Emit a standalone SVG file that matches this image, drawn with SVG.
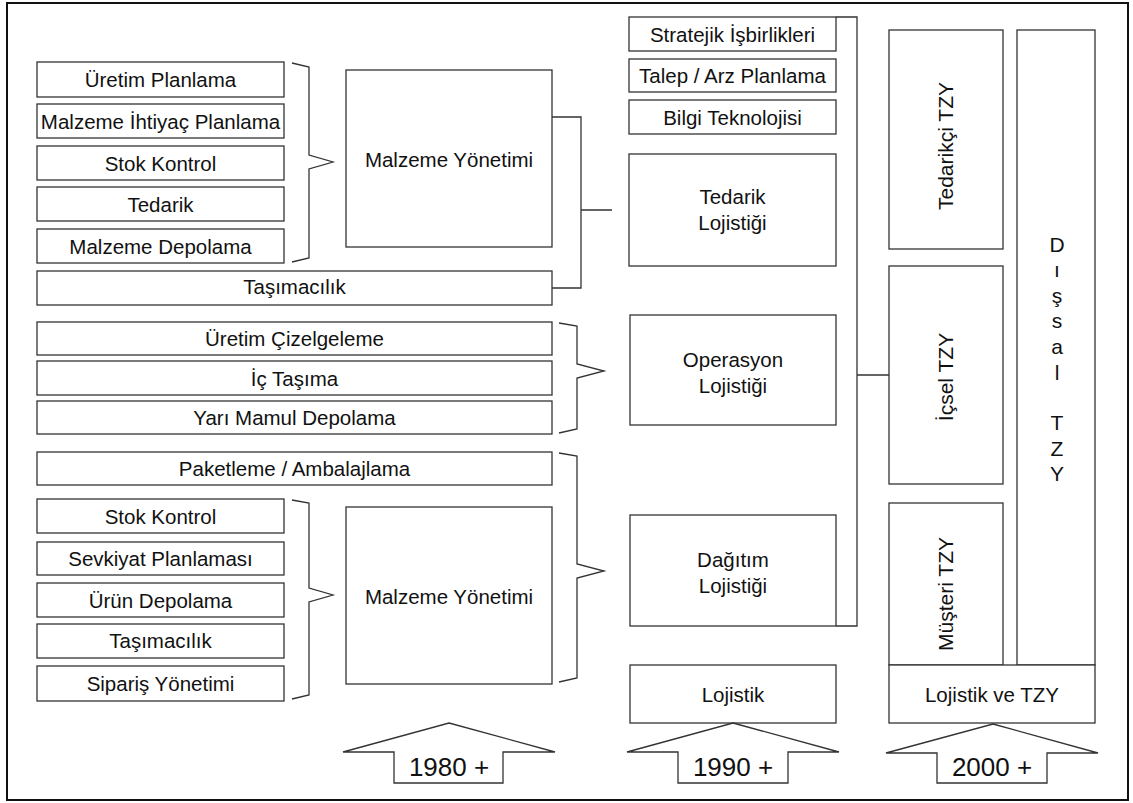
<svg xmlns="http://www.w3.org/2000/svg" width="1133" height="803" viewBox="0 0 1133 803">
<style>
.b{fill:#fff;stroke:#333;stroke-width:1.3}
.l{fill:none;stroke:#333;stroke-width:1.3}
text{font-family:"Liberation Sans",Arial,sans-serif;font-size:20.5px;fill:#111;text-anchor:middle}
.big{font-size:26px}
.v{font-size:21px}
</style>
<rect x="7" y="3" width="1121" height="797" fill="#fff" stroke="#111" stroke-width="2"/>

<g id="connectors">
<path class="l" d="M292,63 L309,67 L309,155 L333,162 L309,169 L309,258 L292,262"/>
<path class="l" d="M552,117 H581 V288 H552 M581,210 H612"/>
<path class="l" d="M559,323 L577,326 L577,364 L604,371 L577,378 L577,429 L559,433"/>
<path class="l" d="M559,453 L577,456 L577,564 L604,571 L577,578 L577,678 L559,682"/>
<path class="l" d="M292,500 L309,503 L309,588 L333,595 L309,602 L309,695 L292,699"/>
<path class="l" d="M836,17 H857 V626 H836 M857,375 H889"/>
</g>

<g id="n-uretim-planlama"><rect class="b" x="37" y="62" width="247" height="35"/><text x="160.5" y="87">Üretim Planlama</text></g>
<g id="n-mip"><rect class="b" x="37" y="104" width="247" height="34"/><text x="160.5" y="128.5">Malzeme İhtiyaç Planlama</text></g>
<g id="n-stok1"><rect class="b" x="37" y="146" width="247" height="34"/><text x="160.5" y="170.5">Stok Kontrol</text></g>
<g id="n-tedarik"><rect class="b" x="37" y="187" width="247" height="34"/><text x="160.5" y="211.5">Tedarik</text></g>
<g id="n-mdepolama"><rect class="b" x="37" y="229" width="247" height="34"/><text x="160.5" y="253.5">Malzeme Depolama</text></g>
<g id="n-tasimacilik1"><rect class="b" x="37" y="271" width="515" height="34"/><text x="294.5" y="294">Taşımacılık</text></g>
<g id="n-my1"><rect class="b" x="346" y="70" width="206" height="177"/><text x="449" y="167">Malzeme Yönetimi</text></g>

<g id="n-cizelge"><rect class="b" x="37" y="322" width="515" height="33"/><text x="294.5" y="346">Üretim Çizelgeleme</text></g>
<g id="n-ictasima"><rect class="b" x="37" y="361" width="515" height="34"/><text x="294.5" y="385.5">İç Taşıma</text></g>
<g id="n-yarimamul"><rect class="b" x="37" y="401" width="515" height="33"/><text x="294.5" y="425">Yarı Mamul Depolama</text></g>
<g id="n-paketleme"><rect class="b" x="37" y="452" width="515" height="33"/><text x="294.5" y="476">Paketleme / Ambalajlama</text></g>

<g id="n-stok2"><rect class="b" x="37" y="499" width="247" height="34"/><text x="160.5" y="523.5">Stok Kontrol</text></g>
<g id="n-sevkiyat"><rect class="b" x="37" y="542" width="247" height="33"/><text x="160.5" y="566">Sevkiyat Planlaması</text></g>
<g id="n-urundepolama"><rect class="b" x="37" y="583" width="247" height="34"/><text x="160.5" y="607.5">Ürün Depolama</text></g>
<g id="n-tasimacilik2"><rect class="b" x="37" y="624" width="247" height="34"/><text x="160.5" y="648">Taşımacılık</text></g>
<g id="n-siparis"><rect class="b" x="37" y="666" width="247" height="35"/><text x="160.5" y="690.5">Sipariş Yönetimi</text></g>
<g id="n-my2"><rect class="b" x="346" y="507" width="206" height="177"/><text x="449" y="604">Malzeme Yönetimi</text></g>

<g id="n-stratejik"><rect class="b" x="629" y="17" width="207" height="34"/><text x="732.5" y="41.5">Stratejik İşbirlikleri</text></g>
<g id="n-talep"><rect class="b" x="629" y="59" width="207" height="33"/><text x="732.5" y="83">Talep / Arz Planlama</text></g>
<g id="n-bilgi"><rect class="b" x="629" y="100" width="207" height="34"/><text x="732.5" y="124.5">Bilgi Teknolojisi</text></g>
<g id="n-tedarik-loj"><rect class="b" x="629" y="154" width="207" height="112"/><text x="732.5" y="204">Tedarik</text><text x="732.5" y="230">Lojistiği</text></g>
<g id="n-operasyon"><rect class="b" x="630" y="315" width="206" height="110"/><text x="733" y="367">Operasyon</text><text x="733" y="393">Lojistiği</text></g>
<g id="n-dagitim"><rect class="b" x="630" y="515" width="206" height="111"/><text x="733" y="567">Dağıtım</text><text x="733" y="593">Lojistiği</text></g>
<g id="n-lojistik"><rect class="b" x="630" y="665" width="206" height="58"/><text x="733" y="701.5">Lojistik</text></g>

<g id="n-tedarikci-tzy"><rect class="b" x="889" y="30" width="114" height="219"/><text class="v" transform="translate(953,146) rotate(-90)">Tedarikçi TZY</text></g>
<g id="n-icsel-tzy"><rect class="b" x="889" y="266" width="114" height="218"/><text class="v" transform="translate(953,377) rotate(-90)">İçsel TZY</text></g>
<g id="n-musteri-tzy"><rect class="b" x="889" y="503" width="114" height="162"/><text class="v" transform="translate(953,594) rotate(-90)">Müşteri TZY</text></g>
<g id="n-dissal-tzy"><rect class="b" x="1017" y="30" width="78" height="635"/>
<text class="v" x="1057" y="252">D</text><text class="v" x="1057" y="277">ı</text><text class="v" x="1057" y="303">ş</text><text class="v" x="1057" y="328">s</text><text class="v" x="1057" y="354">a</text><text class="v" x="1057" y="380">l</text><text class="v" x="1057" y="430">T</text><text class="v" x="1057" y="456">Z</text><text class="v" x="1057" y="481">Y</text></g>
<g id="n-lojistik-tzy"><rect class="b" x="889" y="665" width="206" height="58"/><text x="992" y="701.5">Lojistik ve TZY</text></g>

<g id="n-1980"><path class="b" d="M449,723 L555,752 H503 V783 H394 V752 H343 Z"/><text class="big" x="449" y="776">1980 +</text></g>
<g id="n-1990"><path class="b" d="M733,723 L839,752 H788 V783 H678 V752 H627 Z"/><text class="big" x="733" y="776">1990 +</text></g>
<g id="n-2000"><path class="b" d="M993,724 L1098,753 H1047 V783 H937 V753 H886 Z"/><text class="big" x="992" y="776">2000 +</text></g>
</svg>
